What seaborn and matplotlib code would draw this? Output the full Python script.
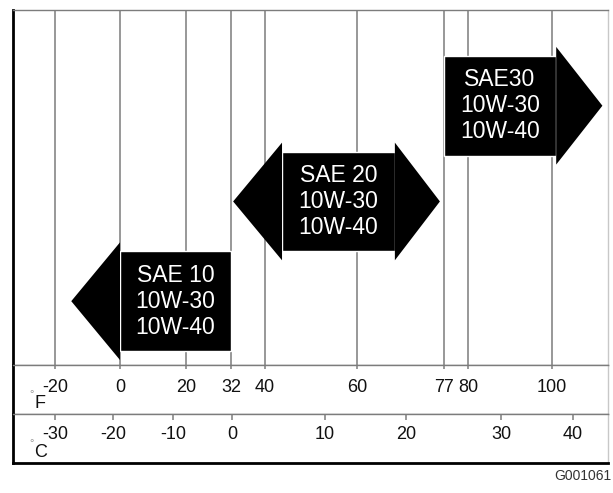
import numpy as np
import matplotlib
matplotlib.use("Agg")
import matplotlib.pyplot as plt
import matplotlib.transforms as mtransforms
import seaborn as sns

# temperature marks on the two scales
F_TICKS = [-20, 0, 20, 32, 40, 60, 77, 80, 100]
C_TICKS = [-30, -20, -10, 0, 10, 20, 30, 40]

# oil grades and their temperature ranges (deg F)
GRADES = ["SAE 10\n10W-30\n10W-40", "SAE 20\n10W-30\n10W-40", "SAE30\n10W-30\n10W-40"]
BOX_LO = [0, 43.7, 77]
BOX_HI = [32, 67.4, 101]
TIP_LO = [-15, 32.5, None]
TIP_HI = [None, 76.2, 112]

# layout: the scales are not linear in the drawing, so each mark gets a pixel spot
F_POS = [55, 120, 186, 231, 265, 357, 444, 468, 552]
C_POS = [55, 113, 173, 232, 325, 406, 501, 573]
ROWS = [0, 1, 1.96]
X0, X1 = 13, 608


def make_scale(ticks, pos):
    # piecewise linear, extended at both ends with the end slopes
    s0 = (pos[1] - pos[0]) / (ticks[1] - ticks[0])
    s1 = (pos[-1] - pos[-2]) / (ticks[-1] - ticks[-2])
    t = [ticks[0] - 100] + list(ticks) + [ticks[-1] + 100]
    p = [pos[0] - 100 * s0] + list(pos) + [pos[-1] + 100 * s1]

    def fwd(v):
        return np.interp(v, t, p)

    def inv(v):
        return np.interp(v, p, t)

    return fwd, inv


sns.set_theme(style="white")
plt.rcParams["font.family"] = ["Liberation Sans", "DejaVu Sans"]

f_fwd, f_inv = make_scale(F_TICKS, F_POS)
c_fwd, c_inv = make_scale(C_TICKS, C_POS)

fig = plt.figure(figsize=(6.13, 4.93), dpi=100)
W, H = 613, 493
left, width = X0 / W, (X1 - X0) / W
ax = fig.add_axes([left, 1 - 365 / H, width, 355 / H])
axf = fig.add_axes([left, 1 - 414 / H, width, 49 / H])
axc = fig.add_axes([left, 1 - 463 / H, width, 49 / H])

grid_col = "#7c7c7c"
for a in (ax, axf):
    a.set_xscale("function", functions=(f_fwd, f_inv))
    a.set_xlim(f_inv(X0), f_inv(X1))
axc.set_xscale("function", functions=(c_fwd, c_inv))
axc.set_xlim(c_inv(X0), c_inv(X1))

# main panel: vertical temperature lines and the grade arrows
ax.set_ylim(-0.64, 2.92)
ax.set_xticks(F_TICKS)
ax.set_yticks([])
ax.tick_params(axis="x", length=0, labelbottom=False)
ax.grid(True, axis="x", color=grid_col, lw=1.1)
ax.set_axisbelow(True)

for i, name in enumerate(GRADES):
    y = ROWS[i]
    lo, hi = BOX_LO[i], BOX_HI[i]
    ax.barh(y, hi - lo, left=lo, height=1.0, color="black", zorder=3)
    if TIP_LO[i] is not None:
        ax.fill([lo, lo, TIP_LO[i]], [y - 0.59, y + 0.59, y], color="black", lw=0, zorder=3)
    if TIP_HI[i] is not None:
        ax.fill([hi, hi, TIP_HI[i]], [y - 0.59, y + 0.59, y], color="black", lw=0, zorder=3)
    xc = f_inv((f_fwd(lo) + f_fwd(hi)) / 2)
    ax.text(xc, y, name, color="white", ha="center", va="center",
            fontsize=16.5, linespacing=1.17, zorder=4)

# scale rows
axf.set_xticks(F_TICKS)
axf.tick_params(axis="x", top=True, bottom=False, direction="in", length=3,
                color=grid_col, width=1.1, labelbottom=False, labeltop=False)
axc.set_xticks(C_TICKS)
axc.tick_params(axis="x", top=True, bottom=False, direction="in", length=4,
                color=grid_col, width=1.1, labelbottom=False, labeltop=False)
for a in (axf, axc):
    a.set_yticks([])
    a.set_ylim(0, 1)

tf = mtransforms.blended_transform_factory(axf.transData, axf.transAxes)
for v in F_TICKS:
    axf.text(v, 0.55, str(v), transform=tf, ha="center", va="center", fontsize=13, color="#111111")
tc = mtransforms.blended_transform_factory(axc.transData, axc.transAxes)
for v in C_TICKS:
    axc.text(v, 0.58, str(v), transform=tc, ha="center", va="center", fontsize=13, color="#111111")

for a, unit in ((axf, "F"), (axc, "C")):
    a.text(0.031, 0.40, "°", transform=a.transAxes, ha="center", va="center", fontsize=8, color="#999999")
    a.text(0.046, 0.22, unit, transform=a.transAxes, ha="center", va="center", fontsize=13, color="#111111")

# frame
for a in (ax, axf, axc):
    for s in a.spines.values():
        s.set_visible(True)
    a.spines["left"].set_color("black")
    a.spines["left"].set_linewidth(2)
    a.spines["right"].set_color("#c8c8c8")
    a.spines["right"].set_linewidth(1)
    a.spines["top"].set_color(grid_col)
    a.spines["top"].set_linewidth(1)
    a.spines["bottom"].set_color(grid_col)
    a.spines["bottom"].set_linewidth(1)
axc.spines["bottom"].set_color("black")
axc.spines["bottom"].set_linewidth(2)

fig.text(611 / W, 1 - 476 / H, "G001061", ha="right", va="center", fontsize=10, color="#333333")

fig.savefig("out.png", dpi=100)
